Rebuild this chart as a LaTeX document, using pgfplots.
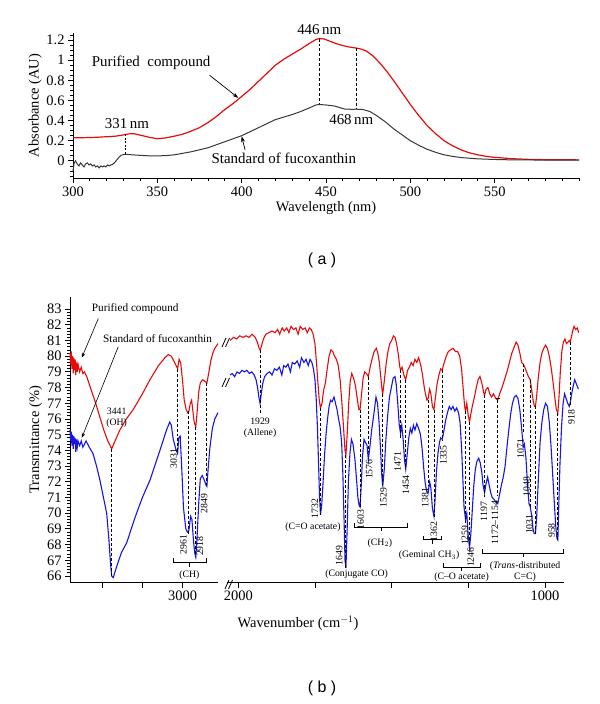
\documentclass[border=0pt]{standalone}
\usepackage{pgfplots}
\pgfplotsset{compat=1.18}
\usepackage{fontspec}
\setmainfont{Liberation Serif}
\newfontfamily\sansf{Liberation Sans}
\usetikzlibrary{arrows.meta}
\definecolor{myred}{RGB}{230,10,10}
\definecolor{myblue}{RGB}{20,20,235}
\definecolor{mygray}{RGB}{55,55,55}
\newcommand{\tf}{\fontsize{14.5}{16}\selectfont}
\newcommand{\lf}{\fontsize{15}{17}\selectfont}
\newcommand{\af}{\fontsize{9.8}{11}\selectfont}
\newcommand{\lgf}{\fontsize{11.3}{13}\selectfont}
\tikzset{dl/.style={black, line width=0.9pt, dash pattern=on 3pt off 2pt},
  br/.style={black, line width=0.8pt},
  an/.style={font=\af, inner sep=0pt},
  ar/.style={font=\af, inner sep=0pt, rotate=90}}
\begin{document}
\begin{tikzpicture}
\useasboundingbox (0,0) rectangle (600bp,704bp);
\pgfplotsset{
  common/.style={scale only axis, anchor=south west,
    axis line style={line width=0.9pt,-}, tick style={black,line width=0.8pt},
    tick align=outside, major tick length=5bp, minor tick length=3bp,
    tick label style={font=\tf}, label style={font=\tf},
    /pgf/number format/assume math mode=true, clip=false},
}
% ---------------- (a) ----------------
\begin{axis}[common, at={(73bp,526bp)}, width=506bp, height=145bp,
  xmin=300, xmax=600, ymin=-0.17, ymax=1.27,
  axis x line*=bottom, axis y line*=left,
  xtick={300,350,400,450,500,550}, minor xtick={310,320,...,600},
  ytick={0,0.2,0.4,0.6,0.8,1,1.2},
  minor ytick={-0.15,-0.1,-0.05,0.05,0.1,0.15,0.25,0.3,0.35,0.45,0.5,0.55,0.65,0.7,0.75,0.85,0.9,0.95,1.05,1.1,1.15,1.25},
  xlabel={Wavelength (nm)}, ylabel={Absorbance (AU)},
  xlabel style={yshift=2bp}, ylabel style={yshift=-2bp}]
\addplot[myred, line width=1.2pt] coordinates {(300,0.23)(305,0.23)(310,0.232)(315,0.235)(320,0.24)(325,0.245)(329,0.255)(333,0.268)(336,0.27)(340,0.255)(345,0.235)(350,0.22)(355,0.228)(360,0.245)(365,0.265)(370,0.295)(375,0.33)(380,0.38)(385,0.44)(390,0.51)(395,0.57)(400,0.64)(405,0.71)(410,0.79)(415,0.87)(420,0.95)(425,1.01)(430,1.06)(435,1.11)(440,1.165)(444,1.205)(446,1.215)(449,1.21)(452,1.19)(456,1.165)(460,1.145)(464,1.13)(468,1.12)(471,1.11)(474,1.09)(478,1.04)(482,0.97)(486,0.89)(490,0.8)(495,0.68)(500,0.56)(505,0.45)(510,0.35)(515,0.27)(520,0.2)(525,0.15)(530,0.11)(535,0.08)(540,0.06)(545,0.045)(550,0.035)(560,0.022)(570,0.015)(580,0.012)(590,0.011)(600,0.01)};
\addplot[mygray, line width=1pt] coordinates {(300,-0.1)(300.7,-0.02)(301.5,0.0)(302.5,-0.03)(303.5,-0.05)(304.5,-0.02)(305.5,-0.04)(306.5,-0.06)(307.5,-0.03)(308.5,-0.02)(309.5,-0.04)(310.5,-0.03)(311.5,-0.05)(312.5,-0.04)(313.5,-0.06)(314.5,-0.05)(315.5,-0.07)(316.5,-0.05)(317.5,-0.06)(318.5,-0.05)(319.5,-0.06)(320.5,-0.04)(321.5,-0.05)(322.5,-0.04)(323.5,-0.035)(324.5,-0.02)(325.5,0.0)(326.5,0.02)(327.5,0.04)(328.5,0.055)(330,0.063)(332,0.065)(335,0.06)(340,0.055)(345,0.05)(350,0.05)(355,0.052)(360,0.06)(365,0.075)(370,0.09)(375,0.11)(380,0.13)(385,0.16)(390,0.19)(395,0.22)(400,0.25)(405,0.29)(410,0.33)(415,0.37)(420,0.41)(425,0.435)(430,0.46)(435,0.49)(440,0.525)(444,0.555)(446,0.56)(450,0.555)(455,0.545)(458,0.53)(461,0.515)(465,0.512)(468,0.513)(472,0.51)(476,0.49)(480,0.45)(485,0.39)(490,0.32)(495,0.26)(500,0.2)(505,0.155)(510,0.115)(515,0.085)(520,0.06)(525,0.045)(530,0.033)(540,0.02)(550,0.014)(560,0.01)(580,0.008)(600,0.007)};
\draw[dl] (446,1.215) -- (446,0.56);
\draw[dl] (468,1.12) -- (468,0.513);
\draw[black, line width=0.7pt, dash pattern=on 2pt off 1.5pt] (331,0.262) -- (331,0.064);
\node[font=\lf, anchor=south, inner sep=1pt] at (446,1.24) {446\,nm};
\node[font=\lf] at (465,0.41) {468\,nm};
\node[font=\lf] at (332,0.37) {331\,nm};
\node[font=\lf, anchor=west, inner sep=0pt] at (311,0.97) {Purified\ \ compound};
\node[font=\lf] at (425,0.03) {Standard of fucoxanthin};
\draw[black, line width=0.7pt, -{Stealth[length=6pt,width=4pt]}] (381,0.85) -- (398,0.625);
\draw[black, line width=0.7pt, -{Stealth[length=6pt,width=4pt]}] (402,0.11) -- (400,0.245);
\end{axis}
% ---------------- (b) left ----------------
\begin{axis}[common, at={(70bp,121.3bp)}, width=148bp, height=285.7bp,
  xmin=2780, xmax=3700, x dir=reverse, ymin=65.573, ymax=83.77,
  axis x line*=bottom, axis y line*=left,
  xtick={3000,3250,3500}, xticklabels={3000,{},{}},
  ytick={66,67,...,83}, minor y tick num=4,
  ylabel={Transmittance (\%)}, ylabel style={yshift=-2bp}]
\addplot[myred, line width=1.1pt] coordinates {(3700,80.2)(3696,79.5)(3692,80.3)(3688,79.2)(3684,80.0)(3680,78.9)(3676,79.9)(3672,79.1)(3668,79.8)(3664,78.8)(3660,79.6)(3655,79.0)(3650,79.5)(3640,79.0)(3630,79.3)(3620,78.9)(3610,79.0)(3596,78.7)(3570,77.9)(3540,77.0)(3514,76.1)(3490,75.3)(3465,74.6)(3450,74.3)(3441,74.1)(3420,74.6)(3390,75.3)(3350,76.0)(3307,76.6)(3250,77.6)(3203,78.5)(3150,79.4)(3110,79.9)(3089,80.1)(3070,80.0)(3055,79.7)(3040,79.4)(3031,79.2)(3022,79.8)(3012,79.6)(3000,78.4)(2990,77.2)(2978,76.6)(2968,76.4)(2961,76.5)(2952,77.0)(2944,77.2)(2936,76.5)(2928,75.8)(2918,75.5)(2910,76.4)(2900,77.7)(2890,78.3)(2875,78.5)(2862,78.4)(2849,78.3)(2838,78.9)(2825,79.7)(2812,80.2)(2800,80.5)(2780,80.8)};
\addplot[myblue, line width=1.1pt] coordinates {(3700,75.3)(3696,74.6)(3692,75.2)(3688,74.3)(3684,75.0)(3680,74.1)(3676,74.9)(3672,74.4)(3668,74.8)(3664,73.9)(3660,74.7)(3655,74.2)(3650,74.6)(3640,74.3)(3630,74.6)(3620,74.2)(3600,74.6)(3580,74.2)(3557,73.8)(3535,73.0)(3514,72.1)(3492,71.0)(3472,70.0)(3458,68.3)(3448,66.8)(3441,66.0)(3431,65.9)(3410,66.6)(3380,67.5)(3348,68.1)(3300,69.6)(3286,70.0)(3250,71.0)(3203,72.1)(3141,74.0)(3100,75.3)(3080,75.8)(3070,75.6)(3058,74.7)(3040,74.0)(3031,73.8)(3024,74.8)(3015,74.9)(3005,72.8)(2995,70.4)(2980,69.0)(2970,68.8)(2961,68.9)(2950,69.8)(2942,69.6)(2932,68.2)(2925,67.5)(2918,67.2)(2910,68.5)(2900,70.6)(2890,72.2)(2878,72.4)(2865,72.1)(2855,71.8)(2849,71.7)(2840,73.0)(2830,74.2)(2815,75.4)(2800,76.0)(2780,76.4)};
\draw[dl] (3441,74.1) -- (3441,66.0);
\draw[dl] (3031,79.2) -- (3031,73.8);
\draw[dl] (2961,76.5) -- (2961,68.7);
\draw[dl] (2918,75.5) -- (2918,67.2);
\draw[dl] (2849,78.3) -- (2849,71.7);
\node[an, align=center, font=\af] at (3410,76.1) {3441\\(OH)};
\node[ar] at (3055,73.5) {3031};
\node[ar] at (2995,68.0) {2961};
\node[ar] at (2893,67.9) {2918};
\node[ar] at (2866,70.6) {2849};
\draw[br] (3060,67.15) -- (3060,66.85) -- (2851,66.85) -- (2851,67.15);
\draw[br] (2956,66.85) -- (2956,66.6);
\node[an] at (2958,66.05) {(CH)};
\node[font=\lgf, inner sep=0pt, anchor=west] at (3565,83.05) {Purified compound};
\node[font=\lgf, inner sep=0pt, anchor=west] at (3495,81.1) {Standard of fucoxanthin};
\draw[black, line width=0.6pt, -{Stealth[length=5pt,width=3.5pt]}] (3524,82.4) -- (3627,79.9);
\draw[black, line width=0.6pt, -{Stealth[length=5pt,width=3.5pt]}] (3400,80.6) -- (3627,74.8);
\end{axis}
% ---------------- (b) right ----------------
\begin{axis}[common, at={(227bp,121.3bp)}, width=337.3bp, height=285.7bp,
  xmin=937, xmax=2036.8, x dir=reverse, ymin=65.573, ymax=83.77,
  axis x line*=bottom, axis y line=none,
  xtick={1000,1250,1500,1750,2000}, xticklabels={1000,{},{},{},2000}]
\addplot[myred, line width=1.1pt] coordinates {(2027,81.0)(2015,81.2)(2005,81.1)(1995,81.3)(1985,81.2)(1975,81.3)(1965,81.2)(1955,81.4)(1945,81.2)(1938,80.9)(1932,80.5)(1929,80.4)(1925,80.6)(1918,81.1)(1910,81.4)(1900,81.5)(1890,81.6)(1880,81.5)(1872,81.7)(1865,81.4)(1857,81.8)(1850,81.6)(1842,81.8)(1835,81.5)(1828,81.9)(1820,81.7)(1812,81.8)(1805,81.4)(1798,81.9)(1790,81.7)(1782,81.8)(1775,81.5)(1768,81.8)(1762,81.7)(1756,81.4)(1750,80.8)(1745,79.6)(1740,78.2)(1736,77.2)(1732,76.7)(1727,77.0)(1722,77.8)(1716,78.3)(1710,79.2)(1704,80.0)(1698,80.4)(1692,80.3)(1686,80.0)(1680,79.8)(1674,79.4)(1668,78.5)(1662,77.0)(1657,75.5)(1652,74.0)(1649,73.7)(1645,75.0)(1640,77.0)(1635,78.4)(1630,78.9)(1624,78.6)(1618,78.1)(1612,77.3)(1607,76.6)(1603,76.6)(1598,77.6)(1593,78.6)(1588,79.0)(1582,78.9)(1576,78.7)(1570,79.3)(1564,79.8)(1557,80.3)(1550,80.5)(1545,80.2)(1540,79.6)(1535,78.6)(1531,77.8)(1529,77.6)(1524,78.4)(1518,79.5)(1512,80.3)(1506,80.8)(1500,81.0)(1494,81.3)(1489,81.2)(1484,80.8)(1478,80.1)(1474,79.4)(1471,79.1)(1466,79.3)(1460,78.8)(1454,78.5)(1448,79.1)(1442,79.3)(1436,79.6)(1430,79.4)(1424,79.8)(1418,79.6)(1412,79.9)(1406,79.5)(1400,78.9)(1395,78.2)(1390,77.6)(1385,77.2)(1381,77.3)(1376,77.9)(1372,77.6)(1367,76.8)(1362,76.6)(1357,77.4)(1352,78.2)(1346,78.8)(1340,79.2)(1335,79.1)(1330,79.5)(1322,80.0)(1315,80.3)(1308,80.4)(1300,80.5)(1292,80.3)(1285,80.3)(1278,80.0)(1272,79.2)(1267,78.0)(1262,76.8)(1259,76.5)(1255,77.0)(1250,76.2)(1246,75.8)(1242,76.3)(1236,76.9)(1230,77.4)(1224,78.0)(1218,78.5)(1212,78.7)(1206,78.3)(1200,77.7)(1197,77.5)(1192,77.9)(1186,78.0)(1180,77.6)(1174,77.4)(1168,77.6)(1160,77.3)(1154,77.2)(1148,77.6)(1140,78.0)(1132,78.5)(1124,79.0)(1116,79.6)(1108,80.2)(1100,80.6)(1094,80.9)(1088,80.7)(1082,80.2)(1076,79.6)(1071,79.5)(1066,79.3)(1060,79.0)(1054,78.7)(1048,78.5)(1043,77.8)(1038,77.1)(1034,76.8)(1031,76.8)(1027,77.5)(1022,78.6)(1016,79.6)(1010,80.2)(1004,80.5)(998,80.7)(992,80.5)(986,80.0)(980,79.3)(974,78.4)(968,77.4)(963,76.6)(958,76.4)(954,77.5)(950,79.0)(945,80.3)(940,80.9)(935,81.1)(930,80.8)(925,80.9)(921,81.0)(918,80.9)(914,81.2)(910,81.6)(905,81.9)(900,81.7)(895,81.8)(890,81.5)};
\addplot[myblue, line width=1.1pt] coordinates {(2027,78.8)(2020,78.9)(2012,78.7)(2004,79.0)(1996,78.9)(1988,79.1)(1980,79.0)(1972,79.1)(1964,78.9)(1956,79.0)(1948,78.8)(1942,78.5)(1937,78.0)(1933,77.4)(1929,77.0)(1925,77.6)(1920,78.3)(1914,78.7)(1906,78.9)(1898,79.0)(1890,78.8)(1882,79.2)(1874,79.1)(1866,79.3)(1858,78.8)(1852,79.4)(1845,79.3)(1838,79.5)(1830,79.0)(1824,79.6)(1816,79.5)(1808,79.7)(1800,79.3)(1794,79.9)(1786,79.6)(1779,79.8)(1772,79.4)(1766,79.8)(1760,79.6)(1755,79.2)(1750,78.5)(1746,77.3)(1742,75.5)(1738,73.0)(1735,71.0)(1732,69.9)(1728,70.5)(1724,71.8)(1719,73.6)(1714,75.0)(1709,76.0)(1704,76.8)(1699,77.2)(1694,77.1)(1688,77.4)(1683,77.0)(1678,76.6)(1673,76.0)(1668,75.5)(1663,74.5)(1659,72.5)(1655,69.5)(1652,67.0)(1649,66.5)(1645,69.0)(1641,72.0)(1636,73.8)(1631,74.7)(1626,74.4)(1620,73.5)(1615,72.3)(1610,71.0)(1606,70.5)(1603,70.4)(1599,71.8)(1595,73.6)(1590,74.7)(1585,74.5)(1580,74.3)(1576,73.4)(1571,74.2)(1565,75.3)(1558,76.3)(1551,77.4)(1546,77.0)(1541,75.8)(1536,74.0)(1532,72.4)(1529,71.7)(1524,72.8)(1519,74.6)(1513,76.2)(1507,77.4)(1501,78.0)(1495,78.6)(1489,78.7)(1485,78.2)(1480,77.0)(1475,75.6)(1471,75.1)(1467,75.6)(1462,74.6)(1458,73.4)(1454,72.8)(1449,73.8)(1444,74.8)(1439,75.4)(1434,75.1)(1429,75.6)(1424,75.3)(1418,75.7)(1412,75.4)(1406,75.0)(1401,74.2)(1396,73.0)(1391,72.0)(1386,71.4)(1381,71.3)(1376,72.0)(1372,71.6)(1367,70.3)(1362,69.8)(1358,71.0)(1354,72.6)(1349,73.8)(1344,74.5)(1340,74.8)(1335,74.7)(1330,75.2)(1324,75.9)(1318,76.4)(1312,76.8)(1306,76.6)(1300,76.8)(1294,76.5)(1288,76.7)(1282,76.4)(1277,75.8)(1272,74.2)(1268,72.3)(1264,70.4)(1259,69.6)(1255,70.0)(1250,68.5)(1246,67.8)(1242,68.6)(1237,70.2)(1232,71.8)(1227,72.8)(1222,73.3)(1216,73.5)(1211,73.2)(1206,72.6)(1202,71.8)(1197,71.3)(1192,71.9)(1187,72.3)(1182,71.8)(1177,71.3)(1172,71.0)(1167,70.9)(1160,70.7)(1154,70.6)(1148,71.2)(1142,71.8)(1136,72.3)(1130,73.0)(1124,74.2)(1118,75.3)(1112,76.3)(1106,77.0)(1100,77.4)(1094,77.5)(1088,77.3)(1082,76.6)(1077,75.6)(1071,74.2)(1067,74.4)(1062,73.5)(1057,71.8)(1052,70.6)(1048,70.4)(1043,69.8)(1039,69.0)(1035,68.7)(1031,68.7)(1027,69.8)(1022,72.0)(1016,74.5)(1010,75.8)(1004,76.6)(998,77.0)(992,76.8)(986,75.8)(980,74.2)(975,72.5)(970,70.8)(965,69.2)(961,68.4)(958,68.3)(955,70.5)(951,73.2)(946,75.5)(941,77.0)(936,77.6)(931,77.3)(926,77.0)(921,76.8)(918,77.0)(913,77.6)(908,78.1)(903,78.5)(899,78.3)(895,78.1)(891,77.9)};
% dashed connectors
\draw[dl] (1929,80.4) -- (1929,76.3);
\draw[dl] (1732,76.7) -- (1732,69.9);
\draw[dl] (1649,73.7) -- (1649,66.5);
\draw[dl] (1603,76.6) -- (1603,70.4);
\draw[dl] (1576,78.7) -- (1576,73.9);
\draw[dl] (1529,77.6) -- (1529,71.8);
\draw[dl] (1471,79.1) -- (1471,74.7);
\draw[dl] (1454,78.5) -- (1454,72.9);
\draw[dl] (1381,77.2) -- (1381,71.8);
\draw[dl] (1362,76.6) -- (1362,69.7);
\draw[dl] (1335,79.1) -- (1335,74.6);
\draw[dl] (1259,76.5) -- (1259,69.4);
\draw[dl] (1246,75.8) -- (1246,67.9);
\draw[dl] (1197,77.5) -- (1197,71.0);
\draw[dl] (1154,77.2) -- (1154,71.1);
\draw[br] (1161,77.3) -- (1147,77.3);
\draw[dl] (1071,79.5) -- (1071,75.1);
\draw[dl] (1048,78.5) -- (1048,70.4);
\draw[dl] (1031,76.8) -- (1031,68.7);
\draw[dl] (958,76.4) -- (958,68.3);
\draw[dl] (918,80.9) -- (918,76.9);
% labels
\node[an, align=center] at (1929,75.45) {1929\\(Allene)};
\node[ar] at (1750,70.3) {1732};
\node[an, anchor=east] at (1666,69.1) {(C=O acetate)};
\node[ar] at (1671,67.3) {1649};
\node[an] at (1614,66.1) {(Conjugate CO)};
\node[ar] at (1601,69.6) {1603};
\node[ar] at (1573,72.8) {1576};
\node[ar] at (1527,71.0) {1529};
\node[ar] at (1480,73.3) {1471};
\node[ar] at (1453,71.8) {1454};
\draw[br] (1620,69.35) -- (1620,69.1) -- (1447,69.1) -- (1447,69.35);
\draw[br] (1533,69.1) -- (1533,68.85);
\node[an] at (1538,68.1) {(CH$_2$)};
\node[ar] at (1391,71.0) {1381};
\node[ar] at (1362,68.85) {1362};
\draw[br] (1398,68.55) -- (1398,68.3) -- (1338,68.3) -- (1338,68.55);
\draw[br] (1368,68.3) -- (1368,68.05);
\node[an] at (1378,67.3) {(Geminal CH$_3$)};
\node[ar] at (1331,73.7) {1335};
\node[ar] at (1261,68.6) {1259};
\node[ar] at (1242,67.2) {1246};
\draw[br] (1331,66.8) -- (1331,66.55) -- (1212,66.55) -- (1212,66.8);
\draw[br] (1272,66.55) -- (1272,66.3);
\node[an] at (1272,65.95) {(C--O acetate)};
\node[ar] at (1199,70.1) {1197};
\node[ar] at (1163,69.4) {1172--1154};
\node[ar] at (1079,74.1) {1071};
\node[ar] at (1060,71.7) {1048};
\node[ar] at (1051,69.3) {1031};
\node[ar] at (978,68.9) {958};
\node[ar] at (914,76.1) {918};
\draw[br] (1203,67.7) -- (1203,67.45) -- (940,67.45) -- (940,67.7);
\draw[br] (1071,67.45) -- (1071,67.2);
\node[an] at (1065,66.62) {(\textit{Trans}-distributed};
\node[an] at (1065,65.95) {C=C)};
\end{axis}
% absolute annotations
\node[font=\tf] at (298bp,81bp) {Wavenumber (cm$^{-1}$)};
\node[font=\sansf\fontsize{16}{18}\selectfont] at (322bp,444bp) {( a )};
\node[font=\sansf\fontsize{16}{18}\selectfont] at (322bp,16bp) {( b )};
\draw[black, line width=0.8pt] (225bp,115bp) -- (229bp,124bp) (228.5bp,115bp) -- (232.5bp,124bp);
\draw[black, line width=0.8pt] (222bp,357bp) -- (226bp,366bp) (225.5bp,357bp) -- (229.5bp,366bp);
\draw[black, line width=0.8pt] (222bp,317bp) -- (226bp,326bp) (225.5bp,317bp) -- (229.5bp,326bp);
\end{tikzpicture}
\end{document}
